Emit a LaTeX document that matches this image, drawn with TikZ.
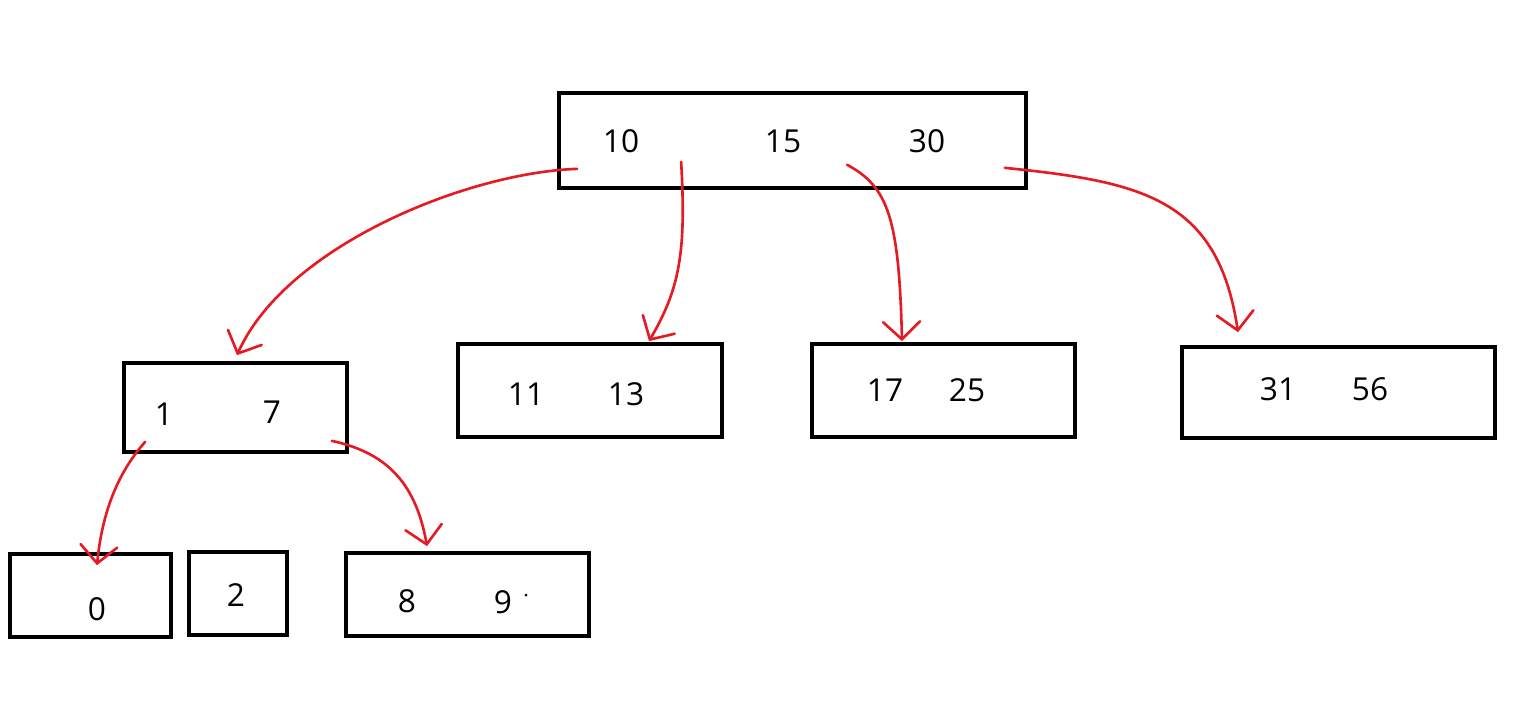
\documentclass[tikz,border=0pt]{standalone}
\usepackage{fontspec}
\setmainfont{Open Sans}
\usepackage{tikz}
\usetikzlibrary{arrows.meta}
\definecolor{penred}{RGB}{228,27,35}
\newcommand{\pxl}{0.02cm}

\begin{document}
\begin{tikzpicture}[x=0.02cm,y=-0.02cm]
      \tikzstyle{box}=[draw,line width=2.1pt,inner sep=0pt]
      \tikzstyle{key}=[inner sep=0pt,font=\fontsize{18pt}{21pt}\selectfont]
      \tikzstyle{link}=[draw=penred,line width=1.5pt,line cap=round,
			-{Straight Barb[length=10pt,width=21pt,line cap=round]}]
      \useasboundingbox (0,0) rectangle (1521,720);
      % tree nodes
      \node (root) [box,minimum width=467*\pxl,minimum height=95*\pxl] at (792.5,140.5) {};
      \node (l17) [box,minimum width=223*\pxl,minimum height=89*\pxl] at (235.5,407.5) {};
      \node (n1113) [box,minimum width=264*\pxl,minimum height=93*\pxl] at (590,390.5) {};
      \node (n1725) [box,minimum width=263*\pxl,minimum height=93*\pxl] at (943.5,390.5) {};
      \node (n3156) [box,minimum width=313*\pxl,minimum height=91*\pxl] at (1338.5,392.5) {};
      \node (leaf0) [box,minimum width=161*\pxl,minimum height=83*\pxl] at (90.5,595.5) {};
      \node (leaf2) [box,minimum width=98*\pxl,minimum height=83*\pxl] at (238,593.5) {};
      \node (leaf89) [box,minimum width=243*\pxl,minimum height=83*\pxl] at (467.5,594.5) {};
      % keys
      \node (k10) [key] at (621,141) {10};
      \node (k15) [key] at (783,141) {15};
      \node (k30) [key] at (927,141) {30};
      \node (k1) [key] at (164,414) {1};
      \node (k7) [key] at (272,412) {7};
      \node (k11) [key] at (526,394) {11};
      \node (k13) [key] at (626,394) {13};
      \node (k17) [key] at (885,390) {17};
      \node (k25) [key] at (967,390) {25};
      \node (k31) [key] at (1278,389) {31};
      \node (k56) [key] at (1370,389) {56};
      \node (k0) [key] at (97,609) {0};
      \node (k2) [key] at (236,595) {2};
      \node (k8) [key] at (407,601) {8};
      \node (k9) [key] at (503,602) {9};
      \fill (526,595) circle [radius=1.5];
      % child pointers
      \draw[link] ([shift={(20,-21)}]root.south west) .. controls +(-112,4) and +(48,-108) .. ([shift={(1.5,-6)}]l17.north);
      \draw[link] ([shift={(124,-28)}]root.south west) .. controls +(5,90) and +(31,-53) .. ([shift={(59,-1)}]n1113.north);
      \draw[link] ([shift={(290,-25)}]root.south west) .. controls +(41,22) and +(-3,-123) .. ([shift={(-41.5,-1)}]n1725.north);
      \draw[link] ([shift={(-23,-22)}]root.south east) .. controls +(137,14) and +(-20,-134) .. ([shift={(-100.5,-13)}]n3156.north);
      \draw[link] ([shift={(23,-12)}]l17.south west) .. controls +(-22,25) and +(6,-62) .. ([shift={(6.5,13)}]leaf0.north);
      \draw[link] ([shift={(-17,-13)}]l17.south east) .. controls +(50,11) and +(-12,-68) .. ([shift={(-40.5,-5)}]leaf89.north);
\end{tikzpicture}
\end{document}
